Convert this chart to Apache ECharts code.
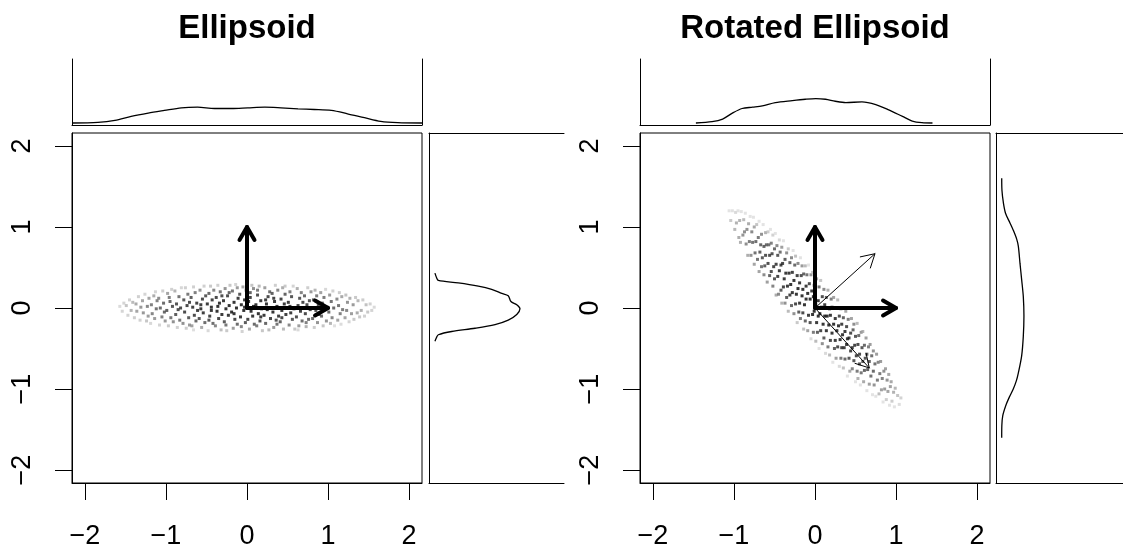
<!DOCTYPE html>
<html><head><meta charset="utf-8">
<script src="https://cdn.jsdelivr.net/npm/echarts@6/dist/echarts.min.js"></script>
<style>html,body{margin:0;padding:0;background:#fff}#c{width:1123px;height:550px}</style>
</head><body><div id="c"></div>
<script>
const titles = ['Ellipsoid', 'Rotated Ellipsoid'];
const tickValues = [-2, -1, 0, 1, 2];

// point cloud of the axis-aligned ellipsoid [x, y]
const ellipsoidPoints = [
[-1.57,0.02],[-1.54,-0.04],[-1.52,0.06],
[-1.49,0.03],[-1.47,-0.09],[-1.45,0.10],[-1.43,-0.03],[-1.41,0.07],
[-1.39,-0.12],[-1.37,0.05],[-1.36,-0.04],[-1.34,0.14],[-1.32,-0.15],[-1.31,0.01],
[-1.29,0.09],[-1.28,-0.06],[-1.26,0.17],[-1.24,-0.16],[-1.23,0.02],[-1.22,-0.10],[-1.21,0.12],
[-1.19,-0.19],[-1.18,0.04],[-1.17,-0.07],[-1.15,0.15],[-1.14,-0.13],[-1.13,0.20],[-1.12,-0.01],[-1.11,0.09],
[-1.09,0.12],[-1.08,-0.21],[-1.07,0.00],[-1.05,-0.11],[-1.04,0.21],[-1.03,0.06],[-1.02,-0.05],[-1.01,-0.16],
[-0.99,-0.03],[-0.98,0.18],[-0.97,-0.22],[-0.95,0.08],[-0.94,-0.12],[-0.93,0.23],[-0.92,0.02],[-0.91,-0.17],[-0.96,0.13],
[-0.89,0.21],[-0.88,-0.08],[-0.87,0.05],[-0.86,-0.24],[-0.84,0.14],[-0.83,-0.15],[-0.82,0.00],[-0.81,0.25],[-0.85,-0.02],
[-0.79,-0.19],[-0.78,0.10],[-0.77,-0.05],[-0.76,0.25],[-0.75,-0.25],[-0.74,0.03],[-0.73,0.17],[-0.72,-0.12],[-0.71,0.07],[-0.71,-0.21],
[-0.69,0.13],[-0.68,-0.22],[-0.67,0.01],[-0.66,0.26],[-0.65,-0.09],[-0.64,0.19],[-0.63,-0.16],[-0.62,0.06],[-0.61,-0.03],[-0.66,-0.27],
[-0.59,-0.13],[-0.58,0.22],[-0.57,0.04],[-0.56,-0.24],[-0.55,0.11],[-0.54,-0.06],[-0.53,0.27],[-0.52,-0.18],[-0.51,0.15],[-0.57,-0.01],
[-0.49,0.05],[-0.48,-0.28],[-0.47,0.18],[-0.46,-0.10],[-0.45,0.27],[-0.44,-0.03],[-0.43,0.10],[-0.42,-0.19],[-0.41,0.22],[-0.47,-0.15],[-0.44,0.01],
[-0.39,-0.22],[-0.38,0.13],[-0.37,-0.04],[-0.36,0.28],[-0.35,-0.13],[-0.34,0.06],[-0.33,0.20],[-0.32,-0.27],[-0.31,-0.08],[-0.36,0.02],[-0.31,0.15],
[-0.29,0.09],[-0.28,-0.17],[-0.27,0.24],[-0.26,-0.01],[-0.25,-0.28],[-0.24,0.15],[-0.23,-0.09],[-0.22,0.03],[-0.21,0.28],[-0.26,-0.21],[-0.22,0.19],
[-0.19,-0.05],[-0.18,0.21],[-0.17,-0.25],[-0.16,0.07],[-0.15,-0.14],[-0.14,0.29],[-0.13,0.00],[-0.12,-0.20],[-0.11,0.12],[-0.16,-0.07],[-0.12,0.25],
[-0.09,0.17],[-0.08,-0.11],[-0.07,0.04],[-0.06,-0.29],[-0.05,0.26],[-0.04,-0.03],[-0.03,0.10],[-0.02,-0.18],[-0.01,0.22],[-0.07,-0.23],[-0.03,0.01],
[0.01,-0.14],[0.02,0.08],[0.03,-0.26],[0.04,0.19],[0.05,-0.04],[0.06,0.28],[0.07,-0.10],[0.08,0.02],[0.09,-0.20],[0.04,0.13],[0.08,0.24],
[0.11,0.04],[0.12,-0.22],[0.13,0.16],[0.14,-0.07],[0.15,0.27],[0.16,-0.16],[0.17,0.09],[0.18,-0.01],[0.19,-0.28],[0.13,0.22],[0.17,-0.11],
[0.21,-0.09],[0.22,0.25],[0.23,-0.19],[0.24,0.05],[0.25,-0.02],[0.26,0.14],[0.27,-0.27],[0.28,0.20],[0.29,-0.13],[0.23,0.10],[0.27,0.00],
[0.31,0.18],[0.32,-0.05],[0.33,-0.24],[0.34,0.08],[0.35,0.28],[0.36,-0.15],[0.37,0.02],[0.38,0.22],[0.39,-0.10],[0.33,0.12],[0.37,-0.20],
[0.41,-0.17],[0.42,0.11],[0.43,-0.03],[0.44,0.25],[0.45,-0.26],[0.46,0.05],[0.47,0.17],[0.48,-0.08],[0.49,0.00],[0.43,-0.12],[0.47,0.27],
[0.51,0.07],[0.52,-0.21],[0.53,0.20],[0.54,-0.06],[0.55,0.14],[0.56,-0.14],[0.57,0.27],[0.58,-0.01],[0.59,-0.26],[0.53,0.02],
[0.61,-0.11],[0.62,0.24],[0.63,0.03],[0.64,-0.22],[0.65,0.12],[0.66,-0.04],[0.67,0.19],[0.68,-0.16],[0.69,0.07],[0.63,-0.27],
[0.71,0.15],[0.72,-0.07],[0.73,-0.23],[0.74,0.04],[0.75,0.25],[0.76,-0.14],[0.77,0.09],[0.78,-0.02],[0.79,0.20],[0.73,-0.18],
[0.81,-0.13],[0.82,0.10],[0.83,-0.24],[0.84,0.22],[0.85,-0.03],[0.86,0.15],[0.87,-0.18],[0.88,0.04],[0.89,-0.08],
[0.91,0.19],[0.92,-0.10],[0.93,0.06],[0.94,-0.22],[0.95,0.13],[0.96,-0.02],[0.97,0.23],[0.98,-0.16],[0.99,0.01],
[1.01,-0.05],[1.02,0.16],[1.03,-0.19],[1.04,0.08],[1.05,-0.12],[1.06,0.21],[1.07,0.00],[1.08,-0.22],
[1.11,0.11],[1.12,-0.15],[1.13,0.03],[1.14,0.19],[1.15,-0.07],[1.16,-0.20],[1.17,0.14],[1.18,-0.02],
[1.21,-0.12],[1.22,0.16],[1.23,-0.03],[1.24,0.07],[1.26,-0.17],[1.27,0.12],[1.29,-0.07],
[1.31,0.04],[1.32,-0.14],[1.34,0.13],[1.36,-0.06],[1.37,0.09],[1.39,-0.11],
[1.41,-0.03],[1.43,0.10],[1.45,-0.10],[1.47,0.04],[1.49,-0.05],
[1.52,0.05],[1.54,-0.03],[1.57,0.01]
];

// point cloud of the rotated ellipsoid [x, y]
const rotatedPoints = [
[-1.06,1.20],[-1.04,1.08],[-1.02,1.20],
[-0.99,0.97],[-0.98,1.18],[-0.97,1.05],[-0.95,1.20],[-0.94,0.87],
[-0.93,1.08],[-0.92,0.81],[-0.91,1.19],[-0.89,0.90],[-0.88,1.09],[-0.87,0.94],
[-0.86,1.17],[-0.85,0.79],[-0.84,0.97],[-0.83,0.65],[-0.82,1.04],[-0.81,0.82],[-0.80,1.13],
[-0.79,0.65],[-0.78,0.94],[-0.77,0.81],[-0.76,1.12],[-0.75,0.54],[-0.75,1.00],[-0.74,0.68],[-0.73,0.82],
[-0.72,1.03],[-0.71,0.60],[-0.70,0.87],[-0.69,0.45],[-0.69,1.07],[-0.68,0.69],[-0.67,0.78],[-0.66,0.51],
[-0.66,0.91],[-0.65,0.62],[-0.64,1.03],[-0.63,0.41],[-0.63,0.76],[-0.62,0.52],[-0.61,0.93],[-0.61,0.65],[-0.60,0.78],
[-0.59,0.32],[-0.58,0.94],[-0.58,0.55],[-0.57,0.78],[-0.56,0.40],[-0.56,0.65],[-0.55,0.97],[-0.54,0.45],[-0.54,0.80],
[-0.53,0.67],[-0.52,0.27],[-0.52,0.90],[-0.51,0.51],[-0.50,0.73],[-0.50,0.36],[-0.49,0.92],[-0.48,0.16],[-0.48,0.54],[-0.47,0.77],
[-0.46,0.39],[-0.46,0.65],[-0.45,0.17],[-0.44,0.84],[-0.44,0.46],[-0.43,0.69],[-0.42,0.22],[-0.42,0.53],[-0.41,0.06],[-0.41,0.75],
[-0.40,0.55],[-0.39,0.26],[-0.39,0.83],[-0.38,0.36],[-0.37,0.60],[-0.37,0.06],[-0.36,0.43],[-0.35,0.68],[-0.35,0.13],[-0.34,0.27],
[-0.33,0.73],[-0.33,-0.04],[-0.32,0.43],[-0.31,0.16],[-0.31,0.56],[-0.30,0.29],[-0.29,0.62],[-0.29,0.03],[-0.28,0.44],[-0.28,0.19],[-0.27,0.71],
[-0.26,-0.07],[-0.26,0.34],[-0.25,0.53],[-0.24,0.05],[-0.24,0.64],[-0.23,0.17],[-0.22,0.40],[-0.22,-0.18],[-0.21,0.24],[-0.21,0.55],[-0.20,-0.05],
[-0.19,0.31],[-0.19,0.06],[-0.18,0.62],[-0.18,-0.13],[-0.17,0.40],[-0.16,0.15],[-0.16,0.52],[-0.15,-0.06],[-0.15,0.23],[-0.14,-0.26],[-0.14,0.42],
[-0.13,0.04],[-0.12,0.52],[-0.12,-0.16],[-0.11,0.27],[-0.11,0.11],[-0.10,0.41],[-0.09,-0.28],[-0.09,0.18],[-0.08,-0.09],[-0.08,0.53],[-0.07,0.30],
[-0.06,-0.18],[-0.06,0.11],[-0.05,0.41],[-0.05,-0.38],[-0.04,0.21],[-0.03,-0.08],[-0.03,0.44],[-0.02,-0.30],[-0.02,0.14],[-0.01,-0.04],[-0.01,0.28],
[0.00,0.20],[0.01,-0.41],[0.01,0.04],[0.02,-0.18],[0.02,0.36],[0.03,-0.30],[0.04,0.09],[0.04,-0.10],[0.05,0.26],[0.05,-0.50],[0.06,-0.07],
[0.07,-0.28],[0.07,0.34],[0.08,0.01],[0.09,-0.44],[0.09,0.14],[0.10,-0.20],[0.11,0.23],[0.11,-0.37],[0.12,-0.10],[0.12,0.04],[0.13,-0.56],
[0.14,0.13],[0.14,-0.28],[0.15,-0.10],[0.16,-0.48],[0.16,0.22],[0.17,-0.21],[0.18,-0.01],[0.18,-0.58],[0.19,-0.09],[0.19,-0.40],[0.20,0.11],
[0.21,-0.31],[0.21,0.01],[0.22,-0.67],[0.23,-0.20],[0.23,0.13],[0.24,-0.50],[0.25,-0.13],[0.25,-0.40],[0.26,0.00],[0.26,-0.62],[0.27,-0.28],
[0.28,0.10],[0.28,-0.48],[0.29,-0.22],[0.30,-0.72],[0.30,-0.10],[0.31,-0.39],[0.32,-0.01],[0.32,-0.62],[0.33,-0.20],[0.33,-0.49],[0.34,-0.33],
[0.35,-0.74],[0.35,-0.12],[0.36,-0.49],[0.37,-0.29],[0.37,-0.63],[0.38,-0.04],[0.39,-0.45],[0.39,-0.23],[0.40,-0.84],[0.40,-0.38],
[0.41,-0.14],[0.42,-0.62],[0.42,-0.37],[0.43,-0.78],[0.44,-0.31],[0.44,-0.53],[0.45,-0.13],[0.46,-0.75],[0.46,-0.49],[0.47,-0.27],
[0.48,-0.65],[0.48,-0.20],[0.49,-0.46],[0.50,-0.91],[0.50,-0.35],[0.51,-0.59],[0.52,-0.19],[0.52,-0.78],[0.53,-0.45],[0.53,-0.87],
[0.54,-0.34],[0.55,-0.69],[0.55,-0.57],[0.56,-0.95],[0.57,-0.30],[0.57,-0.80],[0.58,-0.49],[0.59,-0.66],[0.59,-0.29],
[0.60,-0.91],[0.61,-0.46],[0.61,-0.77],[0.62,-0.62],[0.63,-0.37],[0.64,-1.02],[0.64,-0.57],[0.65,-0.76],[0.66,-0.48],
[0.67,-0.94],[0.67,-0.66],[0.68,-0.45],[0.69,-0.84],[0.70,-0.59],[0.71,-1.07],[0.72,-0.78],[0.72,-0.53],
[0.73,-0.95],[0.74,-0.69],[0.75,-1.09],[0.76,-0.57],[0.77,-0.89],[0.78,-0.67],[0.79,-1.06],[0.80,-0.81],
[0.81,-0.66],[0.82,-1.01],[0.83,-0.87],[0.84,-1.16],[0.85,-0.78],[0.86,-1.00],[0.87,-0.75],
[0.88,-1.13],[0.89,-0.89],[0.90,-1.03],[0.91,-0.82],[0.92,-1.20],[0.93,-0.97],
[0.94,-0.91],[0.95,-1.15],[0.97,-1.04],[0.98,-1.22],[0.99,-0.99],
[1.02,-1.08],[1.04,-1.19],[1.06,-1.11]
];

// marginal density curves, heights relative to the marginal panel
const topDensityEllipsoid = [[-2.16,0.03],[-1.84,0.04],[-1.63,0.07],[-1.43,0.13],[-1.22,0.18],[-1.02,0.22],[-0.81,0.26],[-0.61,0.27],[-0.40,0.25],[-0.19,0.25],[0.01,0.26],[0.22,0.27],[0.42,0.26],[0.63,0.245],[0.83,0.235],[1.04,0.22],[1.24,0.17],[1.45,0.11],[1.65,0.055],[1.86,0.035],[2.16,0.03]];
const rightDensityEllipsoid = [[0.43,0.044],[0.37,0.057],[0.34,0.069],[0.31,0.217],[0.27,0.365],[0.23,0.464],[0.18,0.539],[0.15,0.587],[0.08,0.607],[0.04,0.650],[-0.01,0.674],[-0.08,0.650],[-0.15,0.587],[-0.205,0.489],[-0.25,0.341],[-0.29,0.168],[-0.33,0.069],[-0.36,0.057],[-0.41,0.044]];
const topDensityRotated = [[-1.47,0.03],[-1.27,0.05],[-1.14,0.09],[-1.02,0.18],[-0.90,0.25],[-0.77,0.27],[-0.65,0.29],[-0.49,0.34],[-0.28,0.37],[-0.12,0.39],[0.01,0.40],[0.13,0.39],[0.25,0.36],[0.38,0.34],[0.58,0.35],[0.75,0.31],[0.91,0.23],[1.08,0.13],[1.20,0.06],[1.32,0.035],[1.45,0.03]];
const rightDensityRotated = [[1.60,0.045],[1.45,0.047],[1.30,0.058],[1.17,0.075],[1.05,0.11],[0.96,0.136],[0.85,0.163],[0.76,0.176],[0.55,0.189],[0.35,0.202],[0.14,0.215],[-0.10,0.220],[-0.35,0.215],[-0.59,0.202],[-0.80,0.176],[-0.90,0.160],[-1.00,0.136],[-1.10,0.105],[-1.20,0.078],[-1.33,0.053],[-1.45,0.046],[-1.60,0.045]];

// arrows [x0, y0, x1, y1]
const unitArrows = [[0,0,1,0],[0,0,0,1]];
const rotatedArrows = [[0,0,0.74,0.67],[0,0,0.67,-0.74]];

const RANGE = 2.16;
const FONT = 'Liberation Sans, Arial, Helvetica, sans-serif';
const minus = v => String(v).replace('-', '\u2212');

function grey(r) {
  const g = Math.round(220 * Math.pow(Math.min(1, r), 2.8));
  return 'rgb(' + g + ',' + g + ',' + g + ')';
}
function colorPlain(p) {
  return grey(Math.sqrt(Math.pow(p[0] / 1.6, 2) + Math.pow(p[1] / 0.3, 2)));
}
function colorRot(p) {
  const t = 0.67 * p[0] - 0.74 * p[1], s = 0.74 * p[0] + 0.67 * p[1];
  return grey(Math.sqrt(Math.pow(t / 1.6, 2) + Math.pow(s / 0.3, 2)));
}

function arrowRender(lineWidth, headLen) {
  return function (params, api) {
    const p0 = api.coord([api.value(0), api.value(1)]);
    const p1 = api.coord([api.value(2), api.value(3)]);
    const ang = Math.atan2(p1[1] - p0[1], p1[0] - p0[0]);
    const a = Math.PI / 6;
    const h1 = [p1[0] - headLen * Math.cos(ang - a), p1[1] - headLen * Math.sin(ang - a)];
    const h2 = [p1[0] - headLen * Math.cos(ang + a), p1[1] - headLen * Math.sin(ang + a)];
    const style = { stroke: '#000', lineWidth: lineWidth, lineCap: 'round', lineJoin: 'round', fill: null };
    return { type: 'group', children: [
      { type: 'line', shape: { x1: p0[0], y1: p0[1], x2: p1[0], y2: p1[1] }, style: style },
      { type: 'polyline', shape: { points: [h1, p1, h2] }, style: style }
    ] };
  };
}

const lineBlack = { show: true, onZero: false, lineStyle: { color: '#000', width: 1 } };
const off = { show: false };

function mainX(gi) {
  return { gridIndex: gi, type: 'value', min: -RANGE, max: RANGE, axisLine: lineBlack,
    axisTick: { show: true, inside: false, length: 17, customValues: tickValues, lineStyle: { color: '#000', width: 1 } },
    axisLabel: { show: true, customValues: tickValues, formatter: minus, fontSize: 27, color: '#000', fontFamily: FONT, margin: 40 },
    splitLine: off };
}
function mainY(gi) {
  return { gridIndex: gi, type: 'value', min: -RANGE, max: RANGE, position: 'left', axisLine: lineBlack,
    axisTick: { show: true, inside: false, length: 17, customValues: tickValues, lineStyle: { color: '#000', width: 1 } },
    axisLabel: { show: true, customValues: tickValues, formatter: minus, rotate: 90, fontSize: 27, color: '#000', fontFamily: FONT, margin: 36 },
    splitLine: off };
}
function plainAxis(gi, min, max, position) {
  return { gridIndex: gi, type: 'value', min: min, max: max, position: position, axisLine: lineBlack,
    axisTick: off, axisLabel: off, splitLine: off };
}

const grids = [
  { left: 72, top: 133, width: 350, height: 350, show: true, borderColor: '#000', borderWidth: 1 },
  { left: 72, top: 59, width: 350, height: 66 },
  { left: 429, top: 133, width: 135, height: 350 },
  { left: 640, top: 133, width: 350, height: 350, show: true, borderColor: '#000', borderWidth: 1 },
  { left: 640, top: 59, width: 350, height: 66 },
  { left: 996, top: 133, width: 127, height: 350 }
];

const xAxes = [
  mainX(0),
  plainAxis(1, -RANGE, RANGE, 'bottom'),
  plainAxis(2, 0, 1, 'bottom'),
  plainAxis(2, 0, 1, 'top'),
  mainX(3),
  plainAxis(4, -RANGE, RANGE, 'bottom'),
  plainAxis(5, 0, 1, 'bottom'),
  plainAxis(5, 0, 1, 'top')
];
const yAxes = [
  mainY(0),
  plainAxis(1, 0, 1, 'left'),
  plainAxis(1, 0, 1, 'right'),
  plainAxis(2, -RANGE, RANGE, 'left'),
  mainY(3),
  plainAxis(4, 0, 1, 'left'),
  plainAxis(4, 0, 1, 'right'),
  plainAxis(5, -RANGE, RANGE, 'left')
];

function scatter(points, xi, yi, colorFn) {
  return { type: 'scatter', xAxisIndex: xi, yAxisIndex: yi, symbol: 'rect', symbolSize: 3, silent: true,
    data: points.map(p => ({ value: p, itemStyle: { color: colorFn(p) } })), z: 2 };
}
function density(data, xi, yi) {
  return { type: 'line', xAxisIndex: xi, yAxisIndex: yi, data: data, showSymbol: false, symbol: 'none',
    smooth: 0.3, lineStyle: { color: '#000', width: 1.3 }, silent: true };
}
function arrows(data, xi, yi, lw) {
  return { type: 'custom', xAxisIndex: xi, yAxisIndex: yi, data: data, renderItem: arrowRender(lw, 15),
    encode: { x: [0, 2], y: [1, 3] }, silent: true, z: 5 };
}

const titleStyle = { fontSize: 33, fontWeight: 'bold', color: '#000', fontFamily: FONT };
const option = {
  animation: false,
  backgroundColor: '#fff',
  title: [
    { text: titles[0], left: 247, top: 12, textAlign: 'center', padding: 0, textStyle: titleStyle },
    { text: titles[1], left: 815, top: 12, textAlign: 'center', padding: 0, textStyle: titleStyle }
  ],
  grid: grids,
  xAxis: xAxes,
  yAxis: yAxes,
  series: [
    scatter(ellipsoidPoints, 0, 0, colorPlain),
    arrows(unitArrows, 0, 0, 4),
    density(topDensityEllipsoid, 1, 1),
    density(rightDensityEllipsoid.map(d => [d[1], d[0]]), 2, 3),
    scatter(rotatedPoints, 4, 4, colorRot),
    arrows(unitArrows, 4, 4, 4),
    arrows(rotatedArrows, 4, 4, 1),
    density(topDensityRotated, 5, 5),
    density(rightDensityRotated.map(d => [d[1], d[0]]), 6, 7)
  ]
};
const chart = echarts.init(document.getElementById('c'), null, { renderer: 'canvas' });
chart.setOption(option);
</script>
</body></html>
